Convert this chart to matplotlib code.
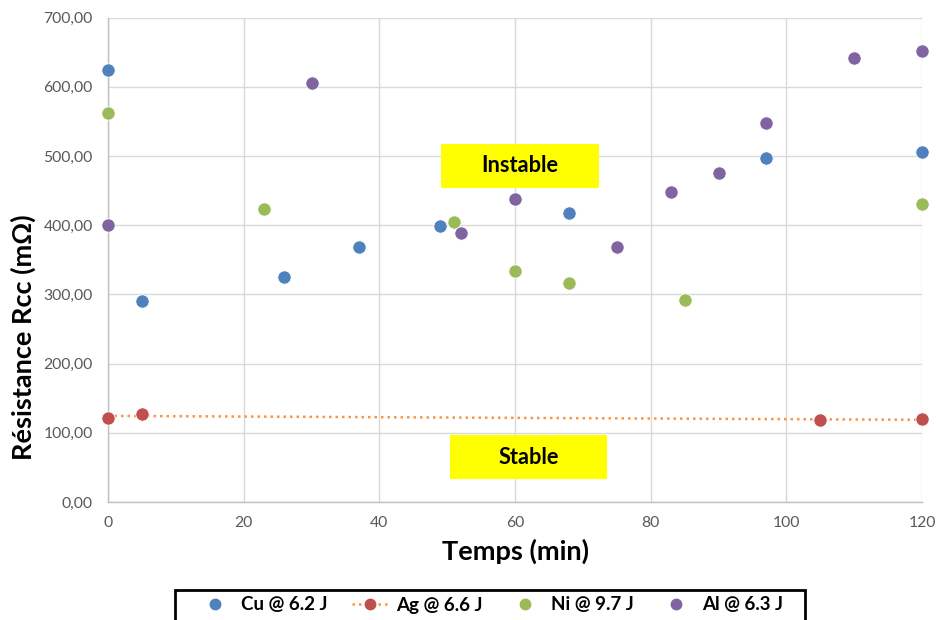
import numpy as np
import matplotlib
matplotlib.use("Agg")
import matplotlib.pyplot as plt
from matplotlib.lines import Line2D
from matplotlib.patches import Rectangle
from matplotlib.ticker import FuncFormatter

plt.rcParams['font.family'] = ['Lato', 'DejaVu Sans']

# Data (time in min, resistance in mOhm)
cu_t = [0, 5, 26, 37, 49, 68, 97, 120]
cu_r = [625, 290, 325, 368, 399, 418, 497, 506]

ag_t = [0, 5, 105, 120]
ag_r = [122, 127, 118, 120]

ni_t = [0, 23, 51, 60, 68, 85, 120]
ni_r = [562, 424, 405, 334, 316, 292, 431]

al_t = [0, 30, 52, 60, 75, 83, 90, 97, 110, 120]
al_r = [401, 606, 389, 438, 369, 448, 476, 548, 641, 652]

labels = ['Cu @ 6.2 J', 'Ag @ 6.6 J', 'Ni @ 9.7 J', 'Al @ 6.3 J']
colors = ['#4F81BD', '#C0504D', '#9BBB59', '#8064A2']
trend_color = '#F79646'

fig = plt.figure(figsize=(9.36, 6.2), dpi=100)
ax = fig.add_axes([0.1154, 0.1903, 0.8697, 0.7812])

series = [(cu_t, cu_r), (ag_t, ag_r), (ni_t, ni_r), (al_t, al_r)]

# linear trendline on the Ag series
coef = np.polyfit(ag_t, ag_r, 1)
tx = np.array([0, 120])
ax.plot(tx, np.polyval(coef, tx), linestyle=(0, (1, 1.6)), color=trend_color,
        linewidth=1.8, zorder=2)

for (t, r), c in zip(series, colors):
    ax.scatter(t, r, s=92, color=c, edgecolors='white', linewidths=0.6,
               zorder=3, clip_on=False)

ax.set_xlim(0, 120)
ax.set_ylim(0, 700)
ax.set_xticks(range(0, 121, 20))
ax.set_yticks(range(0, 701, 100))
ax.yaxis.set_major_formatter(FuncFormatter(lambda v, p: f"{v:.2f}".replace('.', ',')))
ax.tick_params(length=0, labelsize=11.3, labelcolor='#595959')
ax.tick_params(axis='y', pad=11)
ax.tick_params(axis='x', pad=10)
ax.grid(True, color='#D9D9D9', linewidth=1.0, zorder=0)
ax.set_axisbelow(True)
for s in ['top', 'right']:
    ax.spines[s].set_visible(False)
for s in ['left', 'bottom']:
    ax.spines[s].set_color('#BFBFBF')
    ax.spines[s].set_linewidth(1.0)

ax.set_xlabel('Temps (min)', fontsize=19.5, fontweight='bold', labelpad=6)
ax.set_ylabel('Résistance Rcc (mΩ)', fontsize=19.5, fontweight='bold')
ax.yaxis.set_label_coords(-0.088, 0.34)

# zone labels
for x0, x1, y0, y1, txt in [(49.1, 72.4, 454.5, 518, 'Instable'),
                            (50.4, 73.6, 33.2, 96.7, 'Stable')]:
    ax.add_patch(Rectangle((x0, y0), x1 - x0, y1 - y0, facecolor='#FFFF00',
                           edgecolor='none', zorder=4))
    ax.text((x0 + x1) / 2, (y0 + y1) / 2, txt, ha='center', va='center',
            fontsize=15.7, fontweight='bold', zorder=5)

# legend frame (runs off the bottom of the figure)
fig.patches.append(Rectangle((175 / 936, -0.05), 630 / 936, 0.05 + 1 - 590 / 620,
                             transform=fig.transFigure, facecolor='white',
                             edgecolor='black', linewidth=2.0, zorder=1))

handles = [
    Line2D([], [], marker='o', linestyle='none', color=colors[0], markersize=7.5),
    Line2D([], [], marker='o', linestyle=(0, (1, 1.6)), color=trend_color,
           markerfacecolor=colors[1], markeredgecolor=colors[1], markersize=7.5,
           linewidth=1.8),
    Line2D([], [], marker='o', linestyle='none', color=colors[2], markersize=7.5),
    Line2D([], [], marker='o', linestyle='none', color=colors[3], markersize=7.5),
]
leg = fig.legend(handles, labels, loc='center', ncol=4,
                 bbox_to_anchor=(490 / 936, 1 - 605 / 620),
                 frameon=False, prop={'weight': 'bold', 'size': 13.5},
                 handlelength=1.9, handletextpad=0.45, columnspacing=1.3,
                 borderpad=0, borderaxespad=0)
leg.set_zorder(2)

fig.savefig('out.png', dpi=100)
